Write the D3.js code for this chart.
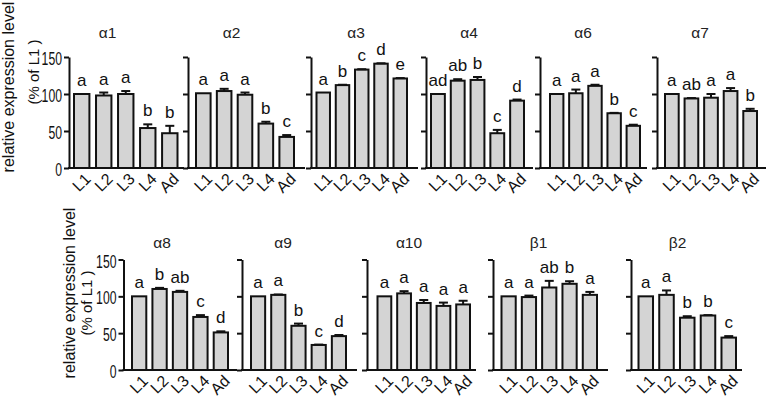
<!DOCTYPE html>
<html>
<head>
<meta charset="utf-8">
<script src="https://cdn.jsdelivr.net/npm/d3@7"></script>
<style>
  body { margin: 0; background: #fff; }
  svg { display: block; font-family: 'Liberation Sans', Arial, sans-serif; }
</style>
</head>
<body>
<div id="chart"></div>
<script>
// Relative expression of nAChR subunits across stages, % of L1 (bar + SEM + letters)

const stages = ['L1', 'L2', 'L3', 'L4', 'Ad'];
const yTicks = [0, 50, 100, 150];

const topGenes = ['α1', 'α2', 'α3', 'α4', 'α6', 'α7'];
const bottomGenes = ['α8', 'α9', 'α10', 'β1', 'β2'];

// means (% of L1)
const a1Mean = [100, 98, 100, 54, 47];
const a2Mean = [101, 104, 99, 60, 42];
const a3Mean = [102, 112, 133, 141, 121];
const a4Mean = [100, 118, 119, 47, 91];
const a6Mean = [100, 101, 111, 74, 57];
const a7Mean = [100, 94, 95, 104, 77];
const a8Mean = [100, 110, 106, 72, 51];
const a9Mean = [100, 102, 60, 34, 46];
const a10Mean = [100, 104, 91, 87, 89];
const b1Mean = [100, 99, 112, 117, 102];
const b2Mean = [100, 102, 71, 74, 44];

// SEM
const a1Sem = [0, 4, 4, 5, 10];
const a2Sem = [0, 3, 3, 2.5, 2.5];
const a3Sem = [0, 0.5, 0.5, 0.5, 0.5];
const a4Sem = [0, 2, 4, 4.5, 1.5];
const a6Sem = [0, 5, 1.5, 0.5, 1.5];
const a7Sem = [0, 0.5, 5, 4, 3];
const a8Sem = [0, 1.5, 1.5, 2.5, 1.5];
const a9Sem = [0, 0.5, 3, 0.5, 1.5];
const a10Sem = [0, 3, 4, 4.5, 5];
const b1Sem = [0, 2, 9, 3.5, 4];
const b2Sem = [0, 6, 2, 0.5, 2];

// significance letters
const a1Sig = ['a', 'a', 'a', 'b', 'b'];
const a2Sig = ['a', 'a', 'a', 'b', 'c'];
const a3Sig = ['a', 'b', 'c', 'd', 'e'];
const a4Sig = ['ad', 'ab', 'b', 'c', 'd'];
const a6Sig = ['a', 'a', 'a', 'b', 'c'];
const a7Sig = ['a', 'ab', 'a', 'a', 'b'];
const a8Sig = ['a', 'b', 'ab', 'c', 'd'];
const a9Sig = ['a', 'a', 'b', 'c', 'd'];
const a10Sig = ['a', 'a', 'a', 'a', 'a'];
const b1Sig = ['a', 'a', 'ab', 'b', 'a'];
const b2Sig = ['a', 'a', 'b', 'b', 'c'];

const topData = [
  [a1Mean, a1Sem, a1Sig], [a2Mean, a2Sem, a2Sig], [a3Mean, a3Sem, a3Sig],
  [a4Mean, a4Sem, a4Sig], [a6Mean, a6Sem, a6Sig], [a7Mean, a7Sem, a7Sig],
];
const bottomData = [
  [a8Mean, a8Sem, a8Sig], [a9Mean, a9Sem, a9Sig], [a10Mean, a10Sem, a10Sig],
  [b1Mean, b1Sem, b1Sig], [b2Mean, b2Sem, b2Sig],
];

// layout (pixels): axis x, baseline end, bar span, title centre
const topLayout = [
  { ax: 69, end: 184, b0: 73, b1: 178.5, tx: 107.5 },
  { ax: 188, end: 305, b0: 195, b1: 295, tx: 231.5 },
  { ax: 311, end: 418, b0: 315.5, b1: 408, tx: 356 },
  { ax: 426, end: 533, b0: 430, b1: 525, tx: 469 },
  { ax: 540, end: 647, b0: 549, b1: 641, tx: 583 },
  { ax: 657, end: 766, b0: 664, b1: 758, tx: 700 },
];
const bottomLayout = [
  { ax: 123.5, end: 237, b0: 131, b1: 229, tx: 162 },
  { ax: 242, end: 357, b0: 250, b1: 347, tx: 283 },
  { ax: 367, end: 476, b0: 376.5, b1: 471, tx: 409 },
  { ax: 493, end: 608, b0: 500.5, b1: 598, tx: 538.5 },
  { ax: 631, end: 742, b0: 637.5, b1: 737, tx: 677.5 },
];

const W = 771, H = 405;
const INK = '#111';
const svg = d3.select('#chart').append('svg').attr('width', W).attr('height', H);

function drawRow(genes, data, layout, row) {
  const y = d3.scaleLinear().domain([0, 150]).range([row.y0, row.y150]);

  genes.forEach((gene, i) => {
    const L = layout[i];
    const [mean, sem, sig] = data[i];
    const x = d3.scaleBand().domain(stages).range([L.b0 + 1, L.b1 - 1]).paddingInner(0.3);
    const g = svg.append('g');
    const rows = stages.map((s, k) => ({ s, m: mean[k], e: sem[k], l: sig[k] }));

    g.append('text')
      .attr('x', L.tx).attr('y', row.titleY)
      .attr('text-anchor', 'middle')
      .attr('font-size', 15.5).attr('fill', '#222')
      .text(gene);

    // bars
    g.selectAll('rect.bar').data(rows).join('rect')
      .attr('class', 'bar')
      .attr('x', d => x(d.s)).attr('width', x.bandwidth())
      .attr('y', d => y(d.m)).attr('height', d => y(0) - y(d.m))
      .attr('fill', '#d4d4d4').attr('stroke', INK).attr('stroke-width', 2);

    // SEM (upper only)
    const eb = g.selectAll('g.err').data(rows.filter(d => d.e > 0)).join('g').attr('class', 'err');
    eb.append('line')
      .attr('x1', d => x(d.s) + x.bandwidth() / 2).attr('x2', d => x(d.s) + x.bandwidth() / 2)
      .attr('y1', d => y(d.m)).attr('y2', d => y(d.m + d.e))
      .attr('stroke', INK).attr('stroke-width', 2);
    eb.append('line')
      .attr('x1', d => x(d.s) + x.bandwidth() / 2 - 4.5).attr('x2', d => x(d.s) + x.bandwidth() / 2 + 4.5)
      .attr('y1', d => y(d.m + d.e)).attr('y2', d => y(d.m + d.e))
      .attr('stroke', INK).attr('stroke-width', 2);

    // letters
    g.selectAll('text.sig').data(rows).join('text')
      .attr('class', 'sig')
      .attr('x', d => x(d.s) + x.bandwidth() / 2)
      .attr('y', d => y(d.m + d.e) - 8)
      .attr('text-anchor', 'middle')
      .attr('font-size', 17).attr('fill', INK)
      .text(d => d.l);

    // y axis
    const yAxis = d3.axisLeft(y).tickValues(yTicks).tickSize(5).tickSizeOuter(0).tickPadding(2);
    if (i > 0) yAxis.tickFormat('');
    const yg = g.append('g').attr('transform', `translate(${L.ax},0)`).call(yAxis);
    yg.select('.domain').attr('stroke', INK).attr('stroke-width', 2);
    yg.selectAll('.tick line').attr('stroke', INK).attr('stroke-width', 2);
    yg.selectAll('.tick text')
      .attr('font-size', 18).attr('fill', INK).attr('font-family', null)
      .attr('dy', '0.42em')
      .attr('textLength', d => String(d).length * 6.8)
      .attr('lengthAdjust', 'spacingAndGlyphs');

    // baseline
    g.append('line')
      .attr('x1', L.ax - 1).attr('x2', L.end)
      .attr('y1', y(0)).attr('y2', y(0))
      .attr('stroke', INK).attr('stroke-width', 2);

    // x labels
    const xg = g.append('g').attr('transform', `translate(0,${y(0)})`)
      .call(d3.axisBottom(x).tickSize(0));
    xg.select('.domain').remove();
    xg.selectAll('.tick text')
      .attr('font-size', 16).attr('fill', INK).attr('font-family', null)
      .attr('x', 0).attr('y', 0).attr('dy', null)
      .attr('text-anchor', 'end')
      .attr('transform', 'translate(10,12) rotate(-45)');
  });

  // y axis titles
  const t = svg.append('g').attr('font-size', 16).attr('fill', INK).attr('text-anchor', 'middle');
  t.append('text')
    .attr('transform', `translate(${row.t1x},${row.t1y}) rotate(-90)`)
    .text('relative expression level');
  t.append('text')
    .attr('font-size', 15)
    .attr('transform', `translate(${row.t2x},${row.t2y}) rotate(-90)`)
    .text('(% of  L1 )');
}

drawRow(topGenes, topData, topLayout,
  { y0: 168, y150: 57, titleY: 38, t1x: 14, t1y: 87, t2x: 38.5, t2y: 72 });
drawRow(bottomGenes, bottomData, bottomLayout,
  { y0: 370, y150: 259.5, titleY: 248, t1x: 75, t1y: 293, t2x: 92, t2y: 303 });
</script>
</body>
</html>
